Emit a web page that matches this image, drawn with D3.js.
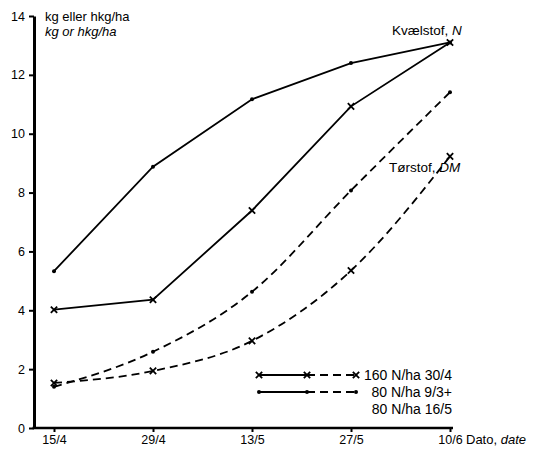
<!DOCTYPE html>
<html>
<head>
<meta charset="utf-8">
<script src="https://cdn.jsdelivr.net/npm/d3@7"></script>
<style>
  body { margin: 0; background: #fff; }
  svg { font-family: "Liberation Sans", Arial, sans-serif; }
</style>
</head>
<body>
<svg id="chart" width="536" height="450"></svg>
<script>
// dates on the x axis (evenly spaced in the original)
const dates = ["15/4", "29/4", "13/5", "27/5", "10/6"];
const yTicks = [0, 2, 4, 6, 8, 10, 12, 14];

// nitrogen (kg N/ha)
const n160 = [4.02, 4.36, 7.39, 10.93, 13.1];
const n80 = [5.33, 8.88, 11.17, 12.4, 13.1];
// dry matter (hkg/ha)
const dm160 = [1.53, 1.94, 2.96, 5.35, 9.23];
const dm80 = [1.4, 2.59, 4.63, 8.07, 11.41];

const series = [
  { values: n80, marker: "dot", dashed: false },
  { values: n160, marker: "x", dashed: false },
  { values: dm80, marker: "dot", dashed: true },
  { values: dm160, marker: "x", dashed: true },
];

const svg = d3.select("#chart");
const x = d3.scalePoint().domain(dates).range([54, 450]);
const y = d3.scaleLinear().domain([0, 14]).range([428, 16]);

const axisX0 = 34;

// y axis
const gy = svg.append("g")
  .attr("transform", `translate(${axisX0},0)`)
  .call(d3.axisLeft(y).tickValues(yTicks).tickSize(5).tickSizeOuter(0).tickPadding(4));
gy.select(".domain").attr("stroke-width", 3);
gy.selectAll(".tick line").attr("stroke-width", 2);
gy.selectAll("text").attr("font-size", 12.5).attr("fill", "#000");

// x axis
const gx = svg.append("g")
  .attr("transform", `translate(0,${y(0)})`)
  .call(d3.axisBottom(x).tickSize(4).tickPadding(3));
gx.select(".domain").remove();
gx.selectAll(".tick line").attr("stroke-width", 2);
gx.selectAll("text").attr("font-size", 12.5).attr("fill", "#000");
gx.append("line")
  .attr("x1", axisX0 - 1.5).attr("x2", 453)
  .attr("stroke", "#000").attr("stroke-width", 2.5);

const line = d3.line()
  .x((d, i) => x(dates[i]))
  .y((d) => y(d));

const markX = d3.symbol().type(d3.symbolX).size(28);

function drawMarker(g, marker, px, py) {
  if (marker === "dot") {
    g.append("circle").attr("cx", px).attr("cy", py).attr("r", 2).attr("fill", "#000");
  } else {
    g.append("path").attr("d", markX)
      .attr("transform", `translate(${px},${py})`)
      .attr("fill", "none").attr("stroke", "#000").attr("stroke-width", 1.8);
  }
}

series.forEach((s) => {
  const g = svg.append("g");
  g.append("path")
    .attr("d", line.curve(s.dashed ? d3.curveMonotoneX : d3.curveLinear)(s.values))
    .attr("fill", "none")
    .attr("stroke", "#000")
    .attr("stroke-width", 1.8)
    .attr("stroke-dasharray", s.dashed ? "8,5" : null);
  s.values.forEach((v, i) => drawMarker(g, s.marker, x(dates[i]), y(v)));
});

// axis titles
svg.append("text").attr("x", 45).attr("y", 21).attr("font-size", 13).text("kg eller hkg/ha");
svg.append("text").attr("x", 45).attr("y", 36).attr("font-size", 13)
  .attr("font-style", "italic").text("kg or hkg/ha");

const dato = svg.append("text").attr("x", 466).attr("y", y(0) + 16).attr("font-size", 13);
dato.append("tspan").text("Dato, ");
dato.append("tspan").attr("font-style", "italic").text("date");

// curve labels
const kv = svg.append("text").attr("x", 392).attr("y", 35).attr("font-size", 13.5);
kv.append("tspan").text("Kvælstof, ");
kv.append("tspan").attr("font-style", "italic").text("N");

const tr = svg.append("text").attr("x", 389).attr("y", 172).attr("font-size", 13.5);
tr.append("tspan").text("Tørstof, ");
tr.append("tspan").attr("font-style", "italic").text("DM");

// legend
const legend = [
  { label: "160 N/ha 30/4", marker: "x", y: 375 },
  { label: "80 N/ha 9/3+", marker: "dot", y: 392 },
  { label: "80 N/ha 16/5", marker: null, y: 409 },
];
const lg = svg.append("g");
legend.forEach((d) => {
  if (d.marker) {
    lg.append("line").attr("x1", 259).attr("x2", 307).attr("y1", d.y).attr("y2", d.y)
      .attr("stroke", "#000").attr("stroke-width", 1.8);
    lg.append("line").attr("x1", 307).attr("x2", 356).attr("y1", d.y).attr("y2", d.y)
      .attr("stroke", "#000").attr("stroke-width", 1.8).attr("stroke-dasharray", "8,5");
    [259, 307, 356].forEach((px) => drawMarker(lg, d.marker, px, d.y));
  }
  lg.append("text").attr("x", 452).attr("y", d.y + 5).attr("text-anchor", "end")
    .attr("font-size", 14).text(d.label);
});
</script>
</body>
</html>
